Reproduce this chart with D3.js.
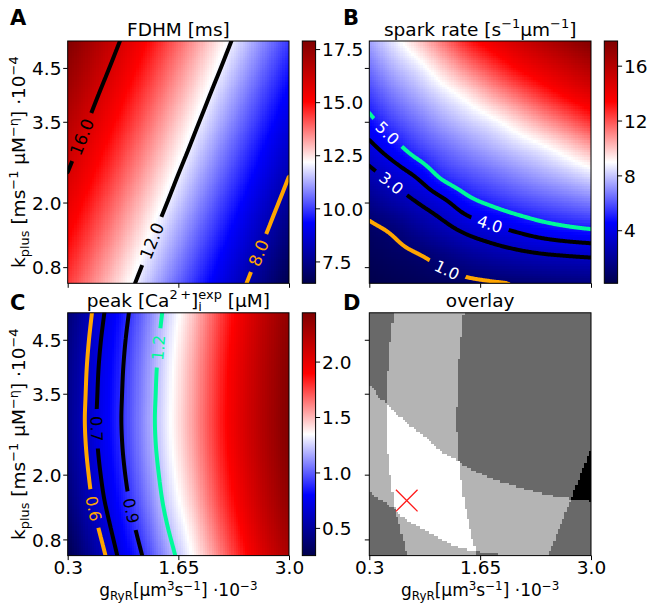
<!DOCTYPE html>
<html><head><meta charset="utf-8">
<script src="https://cdn.jsdelivr.net/npm/d3@7"></script>
<style>
html,body{margin:0;padding:0;background:#fff;}
svg{display:block;font-family:"DejaVu Sans",sans-serif;}
</style></head><body>
<svg id="chart" width="648" height="604"></svg>
<script>
// ---------------- data ----------------
const xNodes = [0.3, 0.6, 0.9, 1.2, 1.5, 1.8, 2.1, 2.4, 2.7, 3.0];   // g_RyR ·10^-3
const yNodes = [0.5, 1.0, 1.5, 2.0, 2.5, 3.0, 3.5, 4.0, 4.5, 5.0];   // k_plus ·10^-4

// FDHM [ms], rows = yNodes (bottom to top), cols = xNodes
const fdhm = [
  [14.41, 13.53, 12.65, 11.77, 10.88, 10.00, 9.12, 8.24, 7.36, 6.47],
  [14.80, 13.91, 13.03, 12.15, 11.27, 10.39, 9.50, 8.62, 7.74, 6.86],
  [15.18, 14.30, 13.42, 12.54, 11.65, 10.77, 9.89, 9.01, 8.13, 7.24],
  [15.57, 14.68, 13.80, 12.92, 12.04, 11.16, 10.27, 9.39, 8.51, 7.63],
  [15.95, 15.07, 14.19, 13.31, 12.42, 11.54, 10.66, 9.78, 8.90, 8.01],
  [16.34, 15.45, 14.57, 13.69, 12.81, 11.93, 11.04, 10.16, 9.28, 8.40],
  [16.72, 15.84, 14.96, 14.08, 13.19, 12.31, 11.43, 10.55, 9.67, 8.78],
  [17.11, 16.22, 15.34, 14.46, 13.58, 12.70, 11.81, 10.93, 10.05, 9.17],
  [17.49, 16.61, 15.73, 14.85, 13.96, 13.08, 12.20, 11.32, 10.44, 9.55],
  [17.88, 16.99, 16.11, 15.23, 14.35, 13.47, 12.58, 11.70, 10.82, 9.94]
];
// spark rate [s^-1 µm^-1]
const sparkRate = [
  [0.13, 0.30, 0.45, 0.58, 0.75, 0.90, 1.05, 1.18, 1.30, 1.40],
  [0.42, 0.66, 0.93, 1.38, 1.91, 2.31, 2.61, 2.83, 2.97, 3.08],
  [0.75, 1.20, 1.95, 2.62, 3.28, 3.75, 4.16, 4.53, 4.79, 4.98],
  [1.65, 2.34, 3.04, 3.77, 4.67, 5.19, 5.64, 6.02, 6.35, 6.70],
  [2.63, 3.38, 4.18, 5.24, 5.86, 6.37, 6.88, 7.37, 7.85, 8.42],
  [3.66, 4.59, 5.55, 6.31, 6.97, 7.55, 8.13, 8.71, 9.51, 10.44],
  [4.69, 5.71, 6.56, 7.39, 8.08, 8.73, 9.62, 10.60, 11.56, 12.59],
  [5.62, 6.68, 7.57, 8.47, 9.37, 10.49, 11.53, 12.58, 13.56, 14.44],
  [6.51, 7.64, 8.58, 9.85, 11.16, 12.33, 13.43, 14.33, 15.21, 16.12],
  [7.40, 8.60, 9.93, 11.44, 12.95, 14.05, 14.99, 15.93, 16.86, 17.80]
];
// peak [Ca2+]i exp [µM]
const peakCa = [
  [0.250, 0.483, 0.697, 0.894, 1.121, 1.333, 1.571, 1.820, 2.060, 2.270],
  [0.312, 0.546, 0.749, 0.953, 1.182, 1.386, 1.640, 1.884, 2.120, 2.324],
  [0.367, 0.600, 0.795, 1.007, 1.232, 1.443, 1.700, 1.940, 2.168, 2.372],
  [0.406, 0.632, 0.828, 1.045, 1.265, 1.486, 1.740, 1.980, 2.202, 2.406],
  [0.433, 0.655, 0.851, 1.072, 1.289, 1.516, 1.768, 2.008, 2.226, 2.430],
  [0.445, 0.665, 0.861, 1.083, 1.299, 1.529, 1.780, 2.020, 2.236, 2.440],
  [0.437, 0.658, 0.855, 1.075, 1.292, 1.520, 1.772, 2.012, 2.229, 2.433],
  [0.425, 0.648, 0.844, 1.064, 1.282, 1.507, 1.760, 2.000, 2.219, 2.423],
  [0.402, 0.629, 0.825, 1.041, 1.262, 1.481, 1.736, 1.976, 2.199, 2.403],
  [0.371, 0.603, 0.798, 1.011, 1.235, 1.447, 1.704, 1.944, 2.171, 2.375]
];

const xTicks = [0.3, 1.65, 3.0];
const xTickLabels = ["0.3", "1.65", "3.0"];
const yTicks = [0.8, 2.0, 3.5, 4.5];
const yTickLabels = ["0.8", "2.0", "3.5", "4.5"];
const fdhmCbTicks = [7.5, 10, 12.5, 15, 17.5];
const fdhmCbLabels = ["7.5", "10.0", "12.5", "15.0", "17.5"];
const rateCbTicks = [4, 8, 12, 16];
const rateCbLabels = ["4", "8", "12", "16"];
const peakCbTicks = [0.5, 1.0, 1.5, 2.0];
const peakCbLabels = ["0.5", "1.0", "1.5", "2.0"];

const fdhmLevels = [8, 12, 16];
const rateLevels = [1, 3, 4, 5];
const peakLevels = [0.6, 0.7, 0.9, 1.2];

// overlay constraints
const fdhmMin = 8;
const rateBounds = [1, 5];
const peakBounds = [0.6, 1.2];
const bestFit = [0.756, 1.52];

// ---------------- styles / layout ----------------
const levelColor = {
  A: {8: "#ffa500", 12: "#000000", 16: "#000000"},
  B: {1: "#ffa500", 3: "#000000", 4: "#000000", 5: "#00fa9a"},
  C: {0.6: "#ffa500", 0.7: "#000000", 0.9: "#000000", 1.2: "#00fa9a"}
};
const labelColor = {
  A: {8: "#ffa500", 12: "#000000", 16: "#000000"},
  B: {1: "#ffffff", 3: "#ffffff", 4: "#ffffff", 5: "#ffffff"},
  C: {0.6: "#ffa500", 0.7: "#000000", 0.9: "#000000", 1.2: "#00fa9a"}
};
// approximate label anchor positions (data coordinates), snapped to the line
const labelSpots = {
  A: [[16, "16.0", 0.471, 3.22], [12, "12.0", 1.304, 1.30], [8, "8.0", 2.626, 1.055]],
  B: [[5, "5.0", 0.532, 3.31], [3, "3.0", 0.553, 2.32], [4, "4.0", 1.773, 1.61], [1, "1.0", 1.264, 0.80]],
  C: [[1.2, "1.2", 1.386, 4.35], [0.7, "0.7", 0.682, 2.85], [0.6, "0.6", 0.645, 1.38], [0.9, "0.9", 1.081, 1.33]]
};
const grayLevels = ["#000000", "#696969", "#b4b4b4", "#ffffff"];

const panels = {
  A: {x0: 67.7, x1: 289, y0: 41, y1: 283.3, cbx: 302.3},
  B: {x0: 369.3, x1: 591, y0: 41, y1: 283.3, cbx: 604.3},
  C: {x0: 67.7, x1: 289, y0: 312.8, y1: 555.6, cbx: 302.3},
  D: {x0: 369.3, x1: 591, y0: 312.8, y1: 555.6}
};
const cbW = 13.3;
const FS = 18.5;

const svg = d3.select("#chart");
const defs = svg.append("defs");

const seismic = d3.scaleLinear().domain([0, 0.25, 0.5, 0.75, 1])
  .range(["#00004c", "#0000ff", "#ffffff", "#ff0000", "#800000"]).interpolate(d3.interpolateRgb);

const xDom = d3.extent(xNodes), yDom = d3.extent(yNodes);

// smooth (Catmull-Rom) field through the grid nodes
function makeField(grid) {
  const nx = xNodes.length, ny = yNodes.length;
  const ix = d3.scaleLinear().domain(xDom).range([0, nx - 1]);
  const iy = d3.scaleLinear().domain(yDom).range([0, ny - 1]);
  function node(i, j) {
    if (i < 0) return 2 * node(0, j) - node(1, j);
    if (i > nx - 1) return 2 * node(nx - 1, j) - node(nx - 2, j);
    if (j < 0) return 2 * node(i, 0) - node(i, 1);
    if (j > ny - 1) return 2 * node(i, ny - 1) - node(i, ny - 2);
    return grid[j][i];
  }
  const cr = (p0, p1, p2, p3, t) => p1 + 0.5 * t * (p2 - p0 + t * (2 * p0 - 5 * p1 + 4 * p2 - p3 + t * (3 * (p1 - p2) + p3 - p0)));
  return function (x, y) {
    x = Math.max(xDom[0], Math.min(xDom[1], x));
    y = Math.max(yDom[0], Math.min(yDom[1], y));
    const fx = ix(x), fy = iy(y);
    const i = Math.min(nx - 2, Math.floor(fx)), j = Math.min(ny - 2, Math.floor(fy));
    const tx = fx - i, ty = fy - j;
    const r = [];
    for (let k = -1; k <= 2; k++) r.push(cr(node(i - 1, j + k), node(i, j + k), node(i + 1, j + k), node(i + 2, j + k), tx));
    return cr(r[0], r[1], r[2], r[3], ty);
  };
}
const fieldA = makeField(fdhm), fieldB = makeField(sparkRate), fieldC = makeField(peakCa);

function scalesOf(p) {
  return {x: d3.scaleLinear().domain(xDom).range([p.x0, p.x1]),
          y: d3.scaleLinear().domain(yDom).range([p.y1, p.y0])};
}

function heatImage(g, p, colorOf) {
  const n = 100, m = 100;
  const cv = document.createElement("canvas"); cv.width = n; cv.height = m;
  const ctx = cv.getContext("2d"); const img = ctx.createImageData(n, m);
  for (let r = 0; r < m; r++) for (let c = 0; c < n; c++) {
    const x = xDom[0] + (c + 0.5) * (xDom[1] - xDom[0]) / n;
    const y = yDom[1] - (r + 0.5) * (yDom[1] - yDom[0]) / m;
    const col = d3.rgb(colorOf(x, y));
    const k = 4 * (r * n + c);
    img.data[k] = col.r; img.data[k + 1] = col.g; img.data[k + 2] = col.b; img.data[k + 3] = 255;
  }
  ctx.putImageData(img, 0, 0);
  g.append("image").attr("href", cv.toDataURL()).attr("x", p.x0).attr("y", p.y0)
    .attr("width", p.x1 - p.x0).attr("height", p.y1 - p.y0)
    .attr("preserveAspectRatio", "none").style("image-rendering", "pixelated");
}

function contourRings(field, p, s, level) {
  const m = 6;
  const nx = Math.ceil(p.x1 - p.x0 + 2 * m) + 1, ny = Math.ceil(p.y1 - p.y0 + 2 * m) + 1;
  const vals = new Float64Array(nx * ny);
  for (let j = 0; j < ny; j++) for (let i = 0; i < nx; i++) {
    vals[j * nx + i] = field(s.x.invert(p.x0 - m + i), s.y.invert(p.y0 - m + j));
  }
  const c = d3.contours().size([nx, ny]).thresholds([level])(vals)[0];
  const rings = [];
  c.coordinates.forEach(poly => poly.forEach(ring => {
    rings.push(ring.map(([cx, cy]) => [p.x0 - m + cx - 0.5, p.y0 - m + cy - 0.5]));
  }));
  return rings;
}

function colorbar(id, p, domain, ticks, labels) {
  const grad = defs.append("linearGradient").attr("id", id).attr("x1", 0).attr("y1", 1).attr("x2", 0).attr("y2", 0);
  [0, 0.25, 0.5, 0.75, 1].forEach(t => grad.append("stop").attr("offset", t).attr("stop-color", seismic(t)));
  svg.append("rect").attr("x", p.cbx).attr("y", p.y0).attr("width", cbW).attr("height", p.y1 - p.y0)
    .attr("fill", `url(#${id})`).attr("stroke", "#000").attr("stroke-width", 1);
  const sc = d3.scaleLinear().domain(domain).range([p.y1, p.y0]);
  const ax = svg.append("g").attr("transform", `translate(${p.cbx + cbW},0)`)
    .call(d3.axisRight(sc).tickValues(ticks).tickSize(4.5).tickFormat((d, i) => labels[i]));
  ax.select(".domain").remove();
  ax.attr("font-size", FS).attr("font-family", "DejaVu Sans");
  ax.selectAll("text").attr("x", 6.5).attr("dy", "0.36em");
}

function axes(p, s, showX, showY) {
  const gx = svg.append("g").attr("transform", `translate(0,${p.y1})`)
    .call(d3.axisBottom(s.x).tickValues(xTicks).tickSize(4.5).tickFormat((d, i) => showX ? xTickLabels[i] : ""));
  gx.select(".domain").remove();
  gx.attr("font-size", FS).attr("font-family", "DejaVu Sans");
  gx.selectAll("text").attr("y", 18.0).attr("dy", null);
  const gy = svg.append("g").attr("transform", `translate(${p.x0},0)`)
    .call(d3.axisLeft(s.y).tickValues(yTicks).tickSize(4.5).tickFormat((d, i) => showY ? yTickLabels[i] : ""));
  gy.select(".domain").remove();
  gy.attr("font-size", FS).attr("font-family", "DejaVu Sans");
  gy.selectAll("text").attr("x", -6.2).attr("dy", "0.36em");
  svg.append("rect").attr("x", p.x0).attr("y", p.y0).attr("width", p.x1 - p.x0).attr("height", p.y1 - p.y0)
    .attr("fill", "none").attr("stroke", "#000").attr("stroke-width", 1);
}

function contourPanel(key, field, grid, levels, labelFs) {
  const p = panels[key], s = scalesOf(p);
  const flat = grid.flat();
  const domain = [d3.min(flat), d3.max(flat)];
  const t = d3.scaleLinear().domain(domain).range([0, 1]);
  const g = svg.append("g");
  heatImage(g, p, (x, y) => seismic(t(field(x, y))));

  const clipId = "clip" + key, maskId = "mask" + key;
  defs.append("clipPath").attr("id", clipId).append("rect")
    .attr("x", p.x0).attr("y", p.y0).attr("width", p.x1 - p.x0).attr("height", p.y1 - p.y0);
  const mask = defs.append("mask").attr("id", maskId).attr("maskUnits", "userSpaceOnUse")
    .attr("x", 0).attr("y", 0).attr("width", 648).attr("height", 604);
  mask.append("rect").attr("x", 0).attr("y", 0).attr("width", 648).attr("height", 604).attr("fill", "#fff");
  const lg = svg.append("g").attr("clip-path", `url(#${clipId})`).append("g").attr("mask", `url(#${maskId})`);

  const ringsByLevel = {};
  levels.forEach(lv => {
    const rings = contourRings(field, p, s, lv);
    ringsByLevel[lv] = rings;
    const dStr = rings.map(r => "M" + r.map(pt => pt[0].toFixed(2) + "," + pt[1].toFixed(2)).join("L") + "Z").join("");
    lg.append("path").attr("d", dStr).attr("fill", "none").attr("stroke", levelColor[key][lv])
      .attr("stroke-width", 4).attr("stroke-linejoin", "round");
  });

  labelSpots[key].forEach(([lv, txt, dx, dy]) => {
    const tx = s.x(dx), ty = s.y(dy);
    let best = null, bd = Infinity;
    ringsByLevel[lv].forEach(r => r.forEach((pt, k) => {
      if (pt[0] < p.x0 + 1 || pt[0] > p.x1 - 1 || pt[1] < p.y0 + 1 || pt[1] > p.y1 - 1) return;
      const d = (pt[0] - tx) ** 2 + (pt[1] - ty) ** 2;
      if (d < bd) { bd = d; best = [r, k]; }
    }));
    if (!best) return;
    const [r, k] = best, n = r.length;
    const a = r[(k - 4 + n) % n], b = r[(k + 4) % n];
    let ang = Math.atan2(b[1] - a[1], b[0] - a[0]) * 180 / Math.PI;
    if (ang > 90) ang -= 180;
    if (ang < -90) ang += 180;
    const pt = r[k];
    const tr = `translate(${pt[0]},${pt[1]}) rotate(${ang})`;
    const te = svg.append("text").attr("transform", tr).attr("text-anchor", "middle").attr("dy", "0.36em")
      .attr("font-size", labelFs).attr("fill", labelColor[key][lv]).text(txt);
    const w = te.node().getComputedTextLength();
    mask.append("rect").attr("transform", tr).attr("x", -w / 2 - 7).attr("y", -8)
      .attr("width", w + 14).attr("height", 16).attr("fill", "#000");
  });
  return {p, s, domain};
}

// ---------------- panels ----------------
const rA = contourPanel("A", fieldA, fdhm, fdhmLevels, 17);
axes(rA.p, rA.s, false, true);
colorbar("cbA", rA.p, rA.domain, fdhmCbTicks, fdhmCbLabels);

const rB = contourPanel("B", fieldB, sparkRate, rateLevels, 16);
axes(rB.p, rB.s, false, false);
colorbar("cbB", rB.p, rB.domain, rateCbTicks, rateCbLabels);

const rC = contourPanel("C", fieldC, peakCa, peakLevels, 16);
axes(rC.p, rC.s, true, true);
colorbar("cbC", rC.p, rC.domain, peakCbTicks, peakCbLabels);

// overlay
(function () {
  const p = panels.D, s = scalesOf(p);
  const g = svg.append("g");
  heatImage(g, p, (x, y) => {
    let n = 0;
    if (fieldA(x, y) >= fdhmMin) n++;
    const b = fieldB(x, y); if (b >= rateBounds[0] && b <= rateBounds[1]) n++;
    const c = fieldC(x, y); if (c >= peakBounds[0] && c <= peakBounds[1]) n++;
    return grayLevels[n];
  });
  const mx = s.x(bestFit[0]), my = s.y(bestFit[1]), h = 10.8;
  svg.append("path").attr("d", `M${mx - h},${my - h}L${mx + h},${my + h}M${mx - h},${my + h}L${mx + h},${my - h}`)
    .attr("stroke", "#ff1a1a").attr("stroke-width", 1.3).attr("fill", "none");
  axes(p, s, true, false);
})();

// ---------------- texts ----------------
function rich(sel, parts, size, supK) {
  let shift = 0;
  const sk = supK || 0.4;
  parts.forEach(([t, k, dx]) => {
    const target = k === "sup" ? -sk * size : k === "sub" ? 0.24 * size : 0;
    const ts = sel.append("tspan").text(t).attr("dy", (target - shift).toFixed(2));
    if (dx) ts.attr("dx", dx);
    if (k !== "n") ts.attr("font-size", (size * 0.7).toFixed(2));
    shift = target;
  });
}
function title(x, y, parts, size) {
  const t = svg.append("text").attr("x", x).attr("y", y).attr("text-anchor", "middle").attr("font-size", size);
  rich(t, parts, size);
}
title(178.4, 35.5, [["FDHM [ms]", "n"]], FS);
title(480.2, 35.5, [["spark rate [s", "n"], ["\u22121", "sup"], ["\u03bcm", "n"], ["\u22121", "sup"], ["]", "n"]], FS);
title(178.4, 306.5, [["peak [Ca", "n"], ["2\u2009+", "sup"], ["]", "n"], ["i", "sub"], ["exp", "sup", -3.6], [" [\u03bcM]", "n"]], FS);
title(480.2, 306.5, [["overlay", "n"]], FS);

[["A", 10, 25], ["B", 343, 25], ["C", 10, 310], ["D", 343, 310]].forEach(([t, x, y]) =>
  svg.append("text").attr("x", x).attr("y", y).attr("font-size", 21).attr("font-weight", "bold").text(t));

const yLabParts = [["k", "n"], ["plus", "sub"], [" [ms", "n"], ["\u22121", "sup"], [" \u03bcM", "n"], ["\u2212\u03b7", "sup"], ["] \u00b710", "n"], ["\u22124", "sup"]];
[rA.p, rC.p].forEach(p => {
  const t = svg.append("text").attr("transform", `translate(25,${(p.y0 + p.y1) / 2}) rotate(-90)`)
    .attr("text-anchor", "middle").attr("font-size", FS);
  rich(t, yLabParts, FS);
});
const xLabParts = [["g", "n"], ["RyR", "sub"], ["[\u03bcm", "n"], ["3", "sup"], ["s", "n"], ["\u22121", "sup"], ["] \u00b710", "n"], ["\u22123", "sup"]];
[rC.p, panels.D].forEach(p => {
  const t = svg.append("text").attr("x", (p.x0 + p.x1) / 2).attr("y", 596).attr("text-anchor", "middle").attr("font-size", 17);
  rich(t, xLabParts, 17, 0.34);
});
</script>
</body></html>
